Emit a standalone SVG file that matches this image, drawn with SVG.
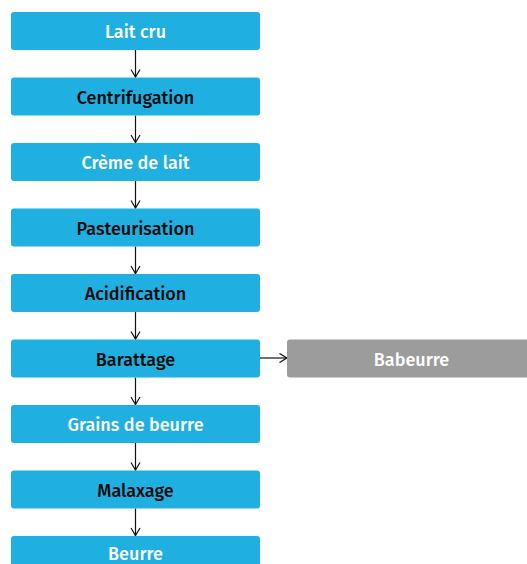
<svg xmlns="http://www.w3.org/2000/svg" width="527" height="564" viewBox="0 0 527 564">
  <style>
    .box { fill: #1FB0E1; }
    .side { fill: #9C9C9D; }
    .lbl { font-family: "Fira Sans", "Open Sans", "Noto Sans", sans-serif; font-size: 18px; font-weight: 500; text-anchor: middle; }
    .light { fill: #FFFFFF; }
    .dark { fill: #0A0A0A; }
    .conn { stroke: #111111; stroke-width: 1.2; fill: none; }
  </style>
  <defs>
    <marker id="arr" markerWidth="12" markerHeight="12" refX="9" refY="6" orient="auto" markerUnits="userSpaceOnUse">
      <path d="M1.5,1.5 L9,6 L1.5,10.5" fill="none" stroke="#111111" stroke-width="1.2"/>
    </marker>
  </defs>

  <g id="connectors">
    <line class="conn" x1="135.5" y1="50" x2="135.5" y2="77" marker-end="url(#arr)"/>
    <line class="conn" x1="135.5" y1="115.5" x2="135.5" y2="142.5" marker-end="url(#arr)"/>
    <line class="conn" x1="135.5" y1="181" x2="135.5" y2="208" marker-end="url(#arr)"/>
    <line class="conn" x1="135.5" y1="246.5" x2="135.5" y2="273.5" marker-end="url(#arr)"/>
    <line class="conn" x1="135.5" y1="312" x2="135.5" y2="339" marker-end="url(#arr)"/>
    <line class="conn" x1="135.5" y1="377.5" x2="135.5" y2="404.5" marker-end="url(#arr)"/>
    <line class="conn" x1="135.5" y1="443" x2="135.5" y2="470" marker-end="url(#arr)"/>
    <line class="conn" x1="135.5" y1="508.5" x2="135.5" y2="535.5" marker-end="url(#arr)"/>
    <line class="conn" x1="260" y1="358" x2="287" y2="358" marker-end="url(#arr)"/>
  </g>

  <g id="lait-cru">
    <rect class="box" x="11" y="12" width="249" height="38" rx="3"/>
    <text class="lbl light" x="135.5" y="37.5">Lait cru</text>
  </g>
  <g id="centrifugation">
    <rect class="box" x="11" y="77.5" width="249" height="38" rx="3"/>
    <text class="lbl dark" x="135.5" y="103.5">Centrifugation</text>
  </g>
  <g id="creme-de-lait">
    <rect class="box" x="11" y="143" width="249" height="38" rx="3"/>
    <text class="lbl light" x="135.5" y="169">Crème de lait</text>
  </g>
  <g id="pasteurisation">
    <rect class="box" x="11" y="208.5" width="249" height="38" rx="3"/>
    <text class="lbl dark" x="135.5" y="234.5">Pasteurisation</text>
  </g>
  <g id="acidification">
    <rect class="box" x="11" y="274" width="249" height="38" rx="3"/>
    <text class="lbl dark" x="135.5" y="300">Acidification</text>
  </g>
  <g id="barattage">
    <rect class="box" x="11" y="339.5" width="249" height="38" rx="3"/>
    <text class="lbl dark" x="135.5" y="365.5">Barattage</text>
  </g>
  <g id="babeurre">
    <rect class="side" x="287" y="339.5" width="249" height="38" rx="3"/>
    <text class="lbl light" x="411.5" y="365.5">Babeurre</text>
  </g>
  <g id="grains-de-beurre">
    <rect class="box" x="11" y="405" width="249" height="38" rx="3"/>
    <text class="lbl light" x="135.5" y="431">Grains de beurre</text>
  </g>
  <g id="malaxage">
    <rect class="box" x="11" y="470.5" width="249" height="38" rx="3"/>
    <text class="lbl dark" x="135.5" y="496.5">Malaxage</text>
  </g>
  <g id="beurre">
    <rect class="box" x="11" y="536" width="249" height="38" rx="3"/>
    <text class="lbl light" x="135.5" y="560">Beurre</text>
  </g>
</svg>
